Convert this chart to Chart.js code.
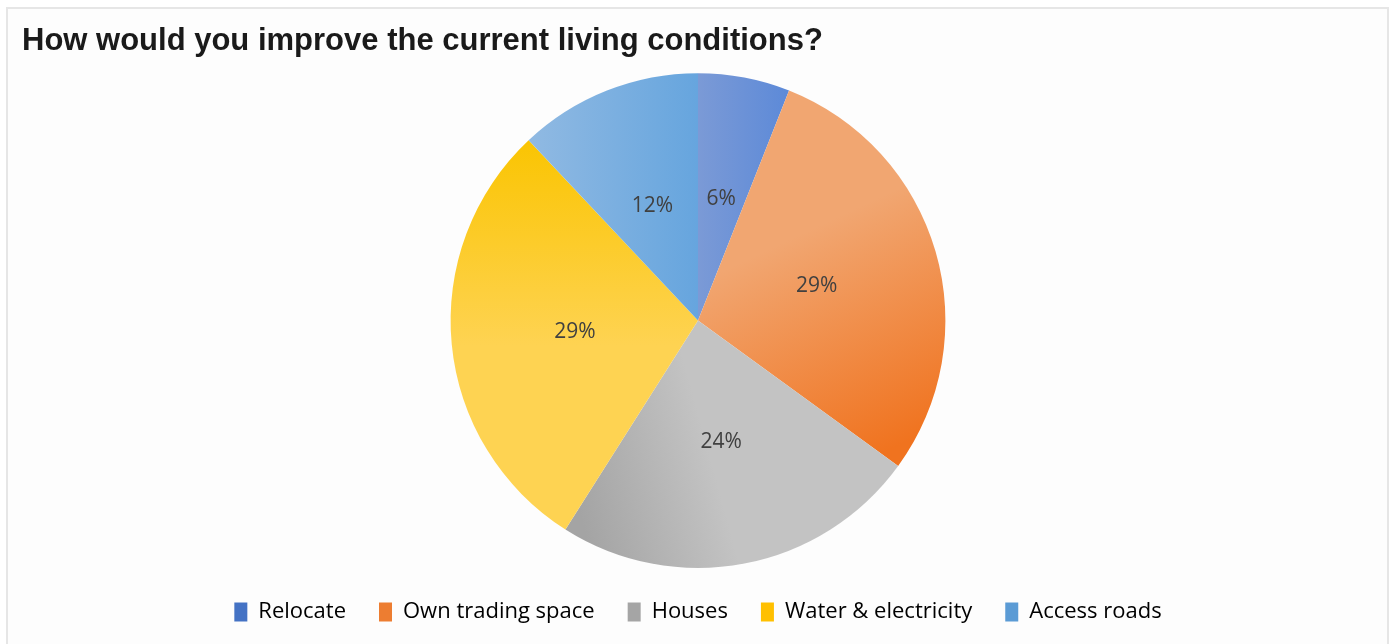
<!DOCTYPE html>
<html>
<head>
<meta charset="utf-8">
<script src="https://cdn.jsdelivr.net/npm/chart.js@4"></script>
<style>
    html, body { margin: 0; padding: 0; background: #ffffff; }
    #frame {
        position: absolute; left: 6px; top: 7px; width: 1379px; height: 640px;
        border: 2px solid #e6e6e6; border-bottom: none; background: #fdfdfd;
    }
    #wrap { position: absolute; left: 0; top: 0; width: 1391px; height: 644px; }
</style>
</head>
<body>
<div id="frame"></div>
<div id="wrap"><canvas id="pieChart" width="1391" height="644"></canvas></div>
<script>
// data
const categories = ['Relocate', 'Own trading space', 'Houses', 'Water & electricity', 'Access roads'];
const shares = [6, 29, 24, 29, 12];

// base legend colours + the light/dark ends of each slice gradient
const legendColors = ['#4472c4', '#ed7d31', '#a5a5a5', '#ffc000', '#5b9bd5'];
const lightEnds = ['#7b9ad6', '#f1a671', '#a4a4a4', '#fac400', '#8fb9e2'];
const darkEnds = ['#5d8ad8', '#f0731f', '#c3c3c3', '#fed352', '#66a5de'];

// Function to build the gradient for one slice
function sliceGradient(context) {
    const chart = context.chart;
    const area = chart.chartArea;
    const i = context.dataIndex;
    if (!area) return legendColors[i];
    const x = (area.left + area.right) / 2;
    const y = (area.top + area.bottom) / 2;
    const r = Math.min(area.right - area.left, area.bottom - area.top) / 2;
    if (!Number.isFinite(x) || !Number.isFinite(y) || !Number.isFinite(r) || r <= 0) return legendColors[i];
    let g;
    if (i === 0) {
        g = chart.ctx.createLinearGradient(x, 0, x + r * 0.36, 0);
    } else if (i === 4) {
        g = chart.ctx.createLinearGradient(x - r * 0.66, 0, x, 0);
    } else if (i === 1) {
        g = chart.ctx.createLinearGradient(x + r * 0.1, y - r * 0.2, x + r * 0.5, y + r * 0.65);
    } else if (i === 2) {
        g = chart.ctx.createLinearGradient(x - r * 0.5, y + r * 0.7, x + r * 0.05, y + r * 0.55);
    } else {
        g = chart.ctx.createLinearGradient(x, y - r * 0.75, x, y + r * 0.1);
    }
    g.addColorStop(0, lightEnds[i]);
    g.addColorStop(1, darkEnds[i]);
    return g;
}

// Inline plugin to write the percent labels in the slices
const sliceLabels = {
    id: 'sliceLabels',
    afterDatasetsDraw(chart) {
        const ctx = chart.ctx;
        const meta = chart.getDatasetMeta(0);
        const total = shares.reduce((a, b) => a + b, 0);
        ctx.save();
        ctx.font = '21px "Open Sans"';
        ctx.fillStyle = '#404040';
        ctx.textAlign = 'center';
        ctx.textBaseline = 'middle';
        meta.data.forEach((arc, i) => {
            const pos = arc.tooltipPosition();
            ctx.fillText(Math.round(shares[i] / total * 100) + '%', pos.x, pos.y);
        });
        ctx.restore();
    }
};

new Chart(document.getElementById('pieChart'), {
    type: 'pie',
    data: {
        labels: categories,
        datasets: [{
            data: shares,
            backgroundColor: sliceGradient,
            borderWidth: 0,
        }],
    },
    plugins: [sliceLabels],
    options: {
        responsive: false,
        animation: false,
        devicePixelRatio: 1,
        layout: { padding: { left: 22, right: 17, top: 10, bottom: 11 } },
        plugins: {
            tooltip: { enabled: false },
            title: {
                display: true,
                text: 'How would you improve the current living conditions?',
                align: 'start',
                color: '#1a1a1a',
                font: { family: '"Liberation Sans", Arial', size: 31, weight: 'bold' },
                padding: { top: 13, bottom: 13 },
            },
            legend: {
                position: 'bottom',
                labels: {
                    font: { family: '"Open Sans"', size: 22 },
                    color: '#595959',
                    boxWidth: 13,
                    boxHeight: 19,
                    padding: 33,
                    generateLabels: (chart) => categories.map((c, i) => ({
                        text: c,
                        fillStyle: legendColors[i],
                        strokeStyle: legendColors[i],
                        lineWidth: 0,
                        index: i,
                        hidden: false,
                    })),
                },
            },
        },
    },
});
</script>
</body>
</html>
